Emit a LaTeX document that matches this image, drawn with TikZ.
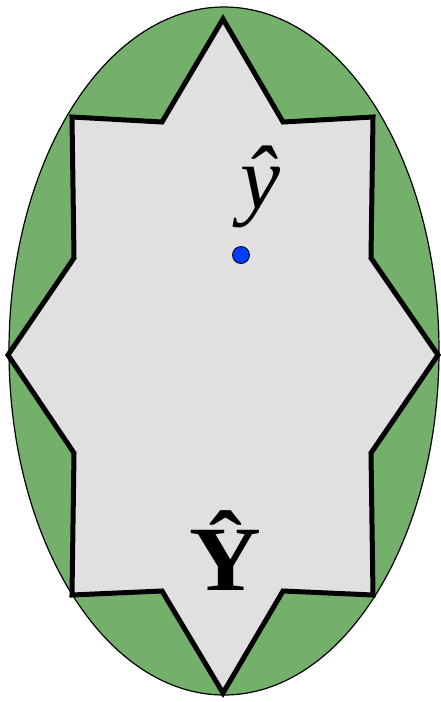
\documentclass[tikz,border=0pt]{standalone}
\usepackage{fontspec}
\setmainfont{Liberation Serif}
\usetikzlibrary{shadows}
\definecolor{setgreen}{RGB}{116,176,108}
\definecolor{setgray}{RGB}{224,224,224}
\definecolor{pointblue}{RGB}{0,60,255}
\begin{document}
\begin{tikzpicture}[x=1pt,y=-1pt,
  starset/.style={draw=black,line width=5pt,line join=miter,fill=setgray,
    drop shadow={opacity=0.25,shadow xshift=1.5pt,shadow yshift=-1.5pt}},
  point/.style={circle,draw=black,line width=0.8pt,fill=pointblue,inner sep=0pt,minimum size=17pt},
  biglabel/.style={inner sep=0pt,anchor=base}]
\useasboundingbox (0,0) rectangle (440,702);

% Outer set
\draw[fill=setgreen,line width=1.2pt] (224,351) ellipse [x radius=215pt, y radius=344pt];

% Star-shaped set
\draw[starset] (223,19) -- (162,122) -- (72,117) -- (74,258) -- (8,355)
  -- (74,453) -- (72,595) -- (162,591) -- (223,693) -- (283,591)
  -- (373,595) -- (371,453) -- (438,355) -- (371,258) -- (373,117)
  -- (283,122) -- cycle;

% Point and labels
\node[point] (yhatpt) at (241,255) {};
\node[biglabel,font=\fontsize{90}{90}\selectfont] (yhat) at (260,208) {\textit{ŷ}};
\node[biglabel,font=\fontsize{92}{92}\selectfont,xscale=1.08] (Yhat) at (225,590) {\textbf{Ŷ}};
\end{tikzpicture}
\end{document}
